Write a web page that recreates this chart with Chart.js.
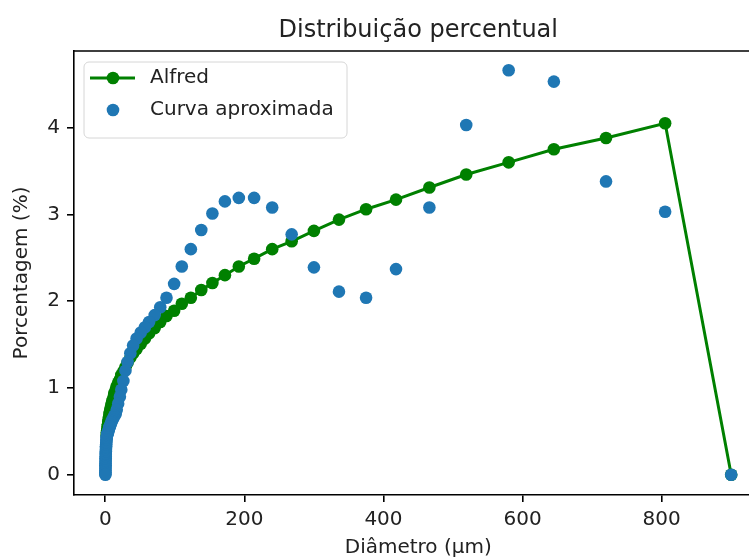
<!DOCTYPE html>
<html>
<head>
<meta charset="utf-8">
<script src="https://cdn.jsdelivr.net/npm/chart.js@4/dist/chart.umd.min.js"></script>
<style>
  html, body { margin: 0; padding: 0; background: #fff; overflow: hidden; }
  #wrap { position: relative; width: 800px; height: 559px; }
</style>
</head>
<body>
<div id="wrap"><canvas id="c" width="800" height="559"></canvas></div>
<script>
// ---- data ----
const diametrosAlfred = [900, 805, 720, 645, 580, 519, 466, 418, 375, 336, 300, 268, 240, 214, 192, 172, 154, 138, 123, 110, 99, 88, 79, 71, 63, 57, 51, 45, 40, 36, 32, 29, 26, 23, 21, 18.5, 16.5, 15, 13, 12, 10.5, 9.5, 8.5, 7.5, 6.7, 6, 5.4, 4.8, 4.3, 3.8, 3.4, 3, 2.7, 2.4, 2.2, 2];
const porcentagemAlfred = [0, 4.05, 3.88, 3.75, 3.60, 3.46, 3.31, 3.17, 3.06, 2.94, 2.81, 2.69, 2.60, 2.49, 2.40, 2.30, 2.21, 2.13, 2.04, 1.97, 1.89, 1.83, 1.76, 1.69, 1.63, 1.57, 1.51, 1.45, 1.40, 1.35, 1.29, 1.24, 1.19, 1.15, 1.10, 1.06, 1.02, 0.98, 0.94, 0.90, 0.86, 0.83, 0.80, 0.76, 0.73, 0.70, 0.67, 0.64, 0.61, 0.58, 0.56, 0.53, 0.51, 0.49, 0.47, 0.45];

const diametrosAprox = [900, 805, 720, 645, 580, 519, 466, 418, 375, 336, 300, 268, 240, 214, 192, 172, 154, 138, 123, 110, 99, 88, 79, 71, 63, 57, 51, 45, 40, 36, 32, 29, 26, 23, 21, 18.5, 16.5, 15, 13, 12, 10.5, 9.5, 8.5, 7.5, 6.7, 6, 5.4, 4.8, 4.3, 3.8, 3.4, 3, 2.7, 2.4, 2.2, 2, 1.8, 1.6, 1.4, 1.25, 1.1, 1.0, 0.9, 0.8, 0.7, 0.63, 0.56, 0.5, 0.45, 0.4, 0.36, 0.32, 0.29, 0.26, 0.23, 0.2, 0.18, 0.16];
const porcentagemAprox = [0, 3.03, 3.38, 4.53, 4.66, 4.03, 3.08, 2.37, 2.04, 2.11, 2.39, 2.77, 3.08, 3.19, 3.19, 3.15, 3.01, 2.82, 2.60, 2.40, 2.20, 2.04, 1.93, 1.84, 1.76, 1.70, 1.64, 1.57, 1.49, 1.40, 1.30, 1.20, 1.08, 0.98, 0.90, 0.82, 0.75, 0.70, 0.68, 0.66, 0.64, 0.62, 0.60, 0.58, 0.56, 0.55, 0.53, 0.52, 0.50, 0.49, 0.48, 0.47, 0.46, 0.45, 0.44, 0.43, 0.41, 0.39, 0.37, 0.35, 0.33, 0.31, 0.29, 0.27, 0.25, 0.23, 0.21, 0.19, 0.17, 0.15, 0.13, 0.11, 0.09, 0.07, 0.05, 0.03, 0.01, 0.0];

const xTicks = [0, 200, 400, 600, 800];
const yTicks = [0, 1, 2, 3, 4];
const serieNomes = ['Alfred', 'Curva aproximada'];
const titulo = 'Distribuição percentual';
const rotuloX = 'Diâmetro (µm)';
const rotuloY = 'Porcentagem (%)';

// ---- chart ----
const FONT = "'DejaVu Sans', 'Liberation Sans', sans-serif";
const TXT = '#222';
const GREEN = '#008000';
const BLUE = '#1f77b4';

const toPts = (xs, ys) => xs.map((x, i) => ({ x: x, y: ys[i] }));

const frame = {
  id: 'frame',
  afterDraw(chart) {
    const { ctx, chartArea: a } = chart;
    ctx.save();
    ctx.strokeStyle = '#000';
    ctx.lineWidth = 1.6;
    ctx.beginPath();
    ctx.moveTo(a.left, a.top);
    ctx.lineTo(a.right, a.top);
    ctx.lineTo(a.right, a.bottom);
    ctx.stroke();
    ctx.restore();
  }
};

const innerLegend = {
  id: 'innerLegend',
  afterDraw(chart) {
    const { ctx, chartArea: a } = chart;
    const L = a.left + 10, T = a.top + 11, W = 263, H = 76, r = 5;
    ctx.save();
    ctx.beginPath();
    ctx.moveTo(L + r, T);
    ctx.arcTo(L + W, T, L + W, T + H, r);
    ctx.arcTo(L + W, T + H, L, T + H, r);
    ctx.arcTo(L, T + H, L, T, r);
    ctx.arcTo(L, T, L + W, T, r);
    ctx.closePath();
    ctx.fillStyle = 'rgba(255,255,255,0.8)';
    ctx.fill();
    ctx.strokeStyle = '#d6d6d6';
    ctx.lineWidth = 1;
    ctx.stroke();
    const y1 = T + 16, y2 = T + 48, mx = L + 29;
    ctx.strokeStyle = GREEN;
    ctx.lineWidth = 3;
    ctx.beginPath();
    ctx.moveTo(L + 6, y1);
    ctx.lineTo(L + 51, y1);
    ctx.stroke();
    ctx.fillStyle = GREEN;
    ctx.beginPath(); ctx.arc(mx, y1, 6.3, 0, Math.PI * 2); ctx.fill();
    ctx.fillStyle = BLUE;
    ctx.beginPath(); ctx.arc(mx, y2, 6.3, 0, Math.PI * 2); ctx.fill();
    ctx.fillStyle = TXT;
    ctx.font = '20px ' + FONT;
    ctx.textBaseline = 'middle';
    ctx.textAlign = 'left';
    ctx.fillText(chart.data.datasets[0].label, L + 66, y1);
    ctx.fillText(chart.data.datasets[1].label, L + 66, y2);
    ctx.restore();
  }
};

new Chart(document.getElementById('c'), {
  type: 'scatter',
  data: {
    datasets: [
      {
        label: serieNomes[0],
        data: toPts(diametrosAlfred, porcentagemAlfred),
        showLine: true,
        borderColor: GREEN,
        backgroundColor: GREEN,
        borderWidth: 3,
        pointRadius: 6.3,
        pointBorderWidth: 0,
        pointBackgroundColor: GREEN,
        tension: 0,
        order: 2
      },
      {
        label: serieNomes[1],
        data: toPts(diametrosAprox, porcentagemAprox),
        showLine: false,
        borderColor: BLUE,
        backgroundColor: BLUE,
        pointRadius: 6.3,
        pointBorderWidth: 0,
        pointBackgroundColor: BLUE,
        order: 1
      }
    ]
  },
  options: {
    responsive: false,
    animation: false,
    devicePixelRatio: 1,
    layout: { padding: { left: 0, right: 37.5, top: 0, bottom: 0 } },
    plugins: {
      legend: { display: false },
      tooltip: { enabled: false },
      title: {
        display: true,
        text: titulo,
        fullSize: false,
        color: TXT,
        font: { family: FONT, size: 24, weight: 'normal', lineHeight: 1.2 },
        padding: { top: 16, bottom: 6.2 }
      }
    },
    scales: {
      x: {
        type: 'linear',
        min: -45,
        max: 945,
        afterBuildTicks: s => { s.ticks = xTicks.map(v => ({ value: v })); },
        afterFit: s => { s.height = 64; },
        ticks: {
          color: TXT,
          font: { family: FONT, size: 20 },
          padding: 6,
          maxRotation: 0,
          callback: v => String(v)
        },
        grid: { display: true, drawOnChartArea: false, drawTicks: true, tickLength: 7, color: '#000', lineWidth: 1.6 },
        border: { display: true, color: '#000', width: 1.6 },
        title: {
          display: true,
          text: rotuloX,
          color: TXT,
          font: { family: FONT, size: 20, lineHeight: 1.2 },
          padding: { top: 0, bottom: -1 }
        }
      },
      y: {
        type: 'linear',
        min: -0.2325,
        max: 4.8825,
        afterBuildTicks: s => { s.ticks = yTicks.map(v => ({ value: v })); },
        afterFit: s => { s.width = 74; },
        ticks: {
          color: TXT,
          font: { family: FONT, size: 20 },
          padding: 7,
          callback: v => String(v)
        },
        grid: { display: true, drawOnChartArea: false, drawTicks: true, tickLength: 7, color: '#000', lineWidth: 1.6 },
        border: { display: true, color: '#000', width: 1.6 },
        title: {
          display: true,
          text: rotuloY,
          color: TXT,
          font: { family: FONT, size: 20, lineHeight: 1.2 },
          padding: { top: 10, bottom: 0 }
        }
      }
    }
  },
  plugins: [frame, innerLegend]
});
</script>
</body>
</html>
